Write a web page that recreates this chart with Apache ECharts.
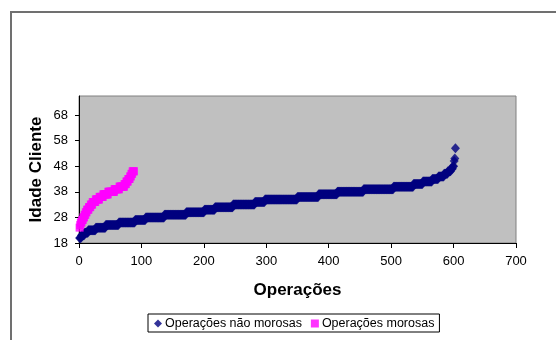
<!DOCTYPE html>
<html>
<head>
<meta charset="utf-8">
<script src="https://cdn.jsdelivr.net/npm/echarts@6/dist/echarts.min.js"></script>
<style>
  html, body { margin: 0; padding: 0; background: #ffffff; }
  #chart { width: 556px; height: 340px; }
</style>
</head>
<body>
<div id="chart"></div>
<script>
// Client ages, sorted ascending; each age is listed with how many operations have it.
const naoMorosasIdades = [20, 21, 22, 23, 24, 25, 26, 27, 28, 29, 30, 31, 32, 33, 34, 35, 36, 37, 38, 39, 40, 41, 42, 43, 44, 45, 46, 47, 48, 50, 51, 55];
const naoMorosasQtd    = [3, 5, 6, 12, 16, 21, 26, 17, 30, 35, 29, 17, 29, 35, 16, 52, 34, 30, 42, 48, 32, 15, 15, 10, 9, 6, 5, 3, 2, 1, 1, 1];

const morosasIdades = [24, 25, 26, 27, 28, 29, 30, 31, 32, 33, 34, 35, 36, 37, 38, 39, 40, 41, 42, 43, 44, 45, 46];
const morosasQtd    = [1, 1, 2, 2, 2, 2, 2, 3, 3, 3, 5, 6, 6, 8, 10, 8, 8, 3, 3, 3, 2, 2, 3];

const xTicks = [0, 100, 200, 300, 400, 500, 600, 700];
const yTicks = [18, 28, 38, 48, 58, 68];

const serieNaoMorosas = 'Operações não morosas';
const serieMorosas = 'Operações morosas';

// Expand (age, count) runs into numbered operations 1..N
function operacoes(idades, qtd) {
  const pts = [];
  let n = 0;
  idades.forEach((idade, k) => {
    for (let j = 0; j < qtd[k]; j++) {
      n += 1;
      pts.push([n, idade]);
    }
  });
  return pts;
}

const FONT = '"Liberation Sans", Arial, sans-serif';
const chart = echarts.init(document.getElementById('chart'), null, { renderer: 'canvas' });

chart.setOption({
  animation: false,
  backgroundColor: '#ffffff',
  textStyle: { fontFamily: FONT },
  grid: {
    left: 79, top: 96, width: 437, height: 147,
    show: true,
    backgroundColor: '#c0c0c0',
    borderColor: '#808080',
    borderWidth: 1
  },
  xAxis: {
    type: 'value',
    min: xTicks[0], max: xTicks[xTicks.length - 1], interval: 100,
    name: 'Operações',
    nameLocation: 'middle',
    nameGap: 39,
    nameMoveOverlap: false,
    nameTextStyle: { fontFamily: FONT, fontSize: 17, fontWeight: 'bold', color: '#000' },
    axisLine: { lineStyle: { color: '#000', width: 1 } },
    axisTick: { show: true, length: 5, lineStyle: { color: '#000' } },
    axisLabel: { fontFamily: FONT, fontSize: 13, color: '#000', margin: 12 },
    splitLine: { show: false }
  },
  yAxis: {
    type: 'value',
    min: 18, max: 75.4,
    name: 'Idade Cliente',
    nameLocation: 'middle',
    nameGap: 34,
    nameMoveOverlap: false,
    nameTextStyle: { fontFamily: FONT, fontSize: 17, fontWeight: 'bold', color: '#000' },
    axisLine: { show: true, lineStyle: { color: '#000', width: 1 } },
    axisTick: { show: true, length: 4, customValues: yTicks, lineStyle: { color: '#000' } },
    axisLabel: { fontFamily: FONT, fontSize: 13, color: '#000', margin: 11, customValues: yTicks },
    splitLine: { show: false }
  },
  legend: {
    left: 148, top: 314,
    padding: [3, 5, 2, 6],
    itemGap: 9,
    itemWidth: 8, itemHeight: 8,
    borderColor: '#000', borderWidth: 1,
    backgroundColor: '#fff',
    textStyle: { fontFamily: FONT, fontSize: 12.5, color: '#000', padding: [0, 0, 0, -2] },
    data: [
      { name: serieNaoMorosas, icon: 'diamond' },
      { name: serieMorosas, icon: 'rect' }
    ]
  },
  graphic: [
    { type: 'line', silent: true, shape: { x1: 11, y1: 11, x2: 11, y2: 340 }, style: { stroke: '#707070', lineWidth: 2 } },
    { type: 'line', silent: true, shape: { x1: 10, y1: 12, x2: 556, y2: 12 }, style: { stroke: '#707070', lineWidth: 2 } }
  ],
  series: [
    {
      name: serieNaoMorosas,
      type: 'scatter',
      symbol: 'diamond',
      symbolSize: [9, 10],
      itemStyle: { color: '#000080' },
      data: operacoes(naoMorosasIdades, naoMorosasQtd)
    },
    {
      name: serieMorosas,
      type: 'scatter',
      symbol: 'rect',
      symbolSize: 8,
      itemStyle: { color: '#ff00ff' },
      data: operacoes(morosasIdades, morosasQtd)
    }
  ]
});
</script>
</body>
</html>
